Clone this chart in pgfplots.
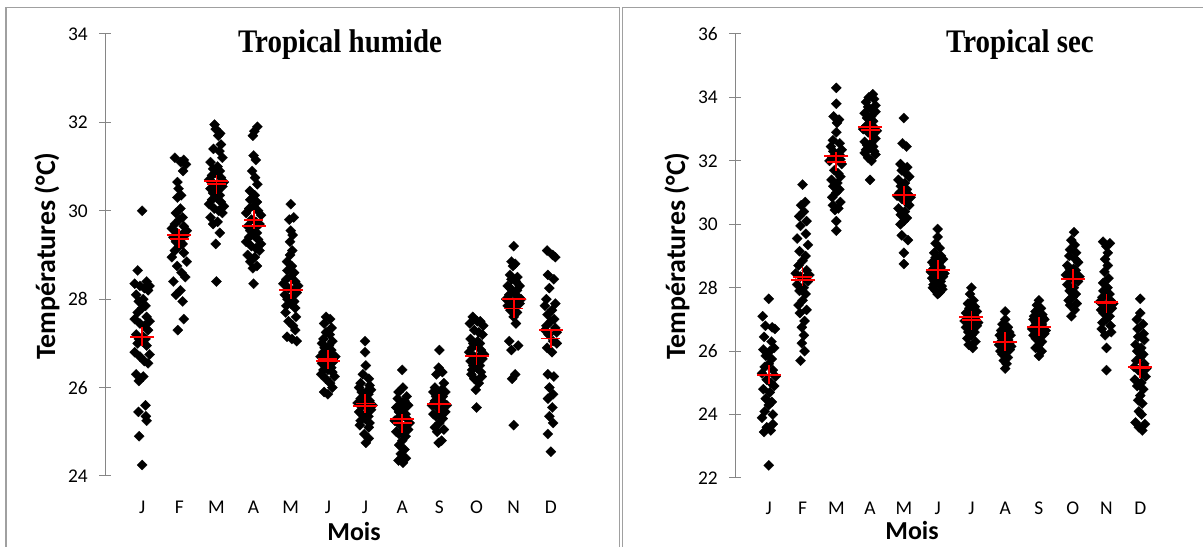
\documentclass[border=0pt]{standalone}
\usepackage{fontspec}
\setmainfont{Carlito}
\newfontfamily\timesfont{Liberation Serif}
\usepackage{graphicx}
\usepackage{pgfplots}
\pgfplotsset{compat=1.18}
\definecolor{axisgray}{HTML}{868686}
\definecolor{framegray}{HTML}{A0A0A0}
\pgfplotsset{
  panel/.style={
    scale only axis, anchor=south west, clip=false,
    xmin=0, xmax=13,
    axis lines=left, axis line style={-},
    x axis line style={draw=none},
    y axis line style={draw=axisgray, line width=1bp},
    xtick={1,...,12},
    xticklabels={J,F,M,A,M,J,J,A,S,O,N,D},
    tick align=center,
    major tick length=12bp,
    ytick style={draw=axisgray, line width=1bp},
    xtick style={draw=none},
    tick label style={font=\fontsize{19.5}{21}\selectfont, text=black},
    yticklabel style={inner sep=0pt, anchor=east, xshift=-11bp},
    xticklabel style={inner sep=0pt, anchor=north, text height=12.3bp, text depth=0pt},
    /pgf/number format/assume math mode=true,
  },
  pts/.style={only marks, mark=square*, mark size=3.6bp, mark options={rotate=45, fill=black, draw=black, line width=0.2bp}},
  medbar/.style={only marks, mark=-, mark size=12bp, mark options={draw=red, line width=2bp}},
  meanplus/.style={only marks, mark=+, mark size=9.5bp, mark options={draw=red, line width=1.8bp}},
}
\begin{document}
\begin{tikzpicture}
\begin{scope}[x=1bp,y=1bp]
\useasboundingbox (0,0) rectangle (1203,547);
\draw[framegray, line width=1.2bp] (6,0) -- (6,539.7) -- (619.8,539.7) -- (619.8,0);
\draw[framegray, line width=1.2bp] (622.3,0) -- (622.3,539.7) -- (1203,539.7);
\node[font=\timesfont\bfseries\fontsize{33}{35}\selectfont] at (340,502) {\scalebox{0.88}[1]{Tropical humide}};
\node[font=\timesfont\bfseries\fontsize{33}{35}\selectfont] at (1020,502) {\scalebox{0.88}[1]{Tropical sec}};
\node[font=\bfseries\fontsize{28}{30}\selectfont, rotate=90] at (47,291) {Températures (°C)};
\node[font=\bfseries\fontsize{28}{30}\selectfont, rotate=90] at (677,291) {Températures (°C)};
\node[font=\bfseries\fontsize{26}{28}\selectfont] at (354,15) {Mois};
\node[font=\bfseries\fontsize{26}{28}\selectfont] at (912,16) {Mois};
\end{scope}

\begin{axis}[panel, at={(105bp,71bp)}, width=483bp, height=442bp,
  ymin=24, ymax=34, ytick={24,26,...,34}, xticklabel style={yshift=-19.5bp}]
\addplot[pts] coordinates {
(1,30.0) (0.88,28.65) (1.12,28.4) (0.8,28.35) (1.2,28.3) (0.94,28.3) (1.06,28.25) (1.16,28.2) (0.84,28.1) (1.03,28.0) (0.91,27.95) (1.09,27.85)
(1,27.8) (0.88,27.7) (1.12,27.6) (0.8,27.55) (1.2,27.5) (0.94,27.45) (1.06,27.4) (1.16,27.3) (0.84,27.2) (1.03,27.15) (0.91,27.1) (1.09,27.1)
(1,27.05) (0.88,27.0) (1.12,26.95) (0.8,26.8) (1.2,26.75) (0.94,26.7) (1.06,26.6) (1.16,26.55) (0.84,26.3) (1.03,26.25) (0.91,26.15) (1.09,25.6)
(0.9,25.45) (1.1,25.35) (1.12,25.25) (0.92,24.9) (1,24.25)
(1.88,31.2) (2.12,31.15) (2.04,31.1) (2.18,31.05) (2.1,30.9) (1.95,30.65) (1.98,30.5) (2.05,30.35) (1.95,30.3) (2.03,30.05) (1.91,29.95) (2.09,29.85)
(2,29.8) (1.88,29.7) (2.12,29.65) (1.8,29.6) (2.2,29.55) (1.94,29.5) (2.06,29.45) (2.16,29.45) (1.84,29.4) (2.03,29.35) (1.91,29.3) (2.09,29.25)
(2,29.2) (1.88,29.1) (2.12,29.05) (1.8,28.95) (2.2,28.85) (1.94,28.75) (2.06,28.6) (2.16,28.5) (1.84,28.4) (2.03,28.2) (1.91,28.1) (2.09,27.95)
(2.12,27.55) (1.96,27.3)
(2.95,31.95) (2.98,31.85) (3.1,31.75) (3.05,31.7) (3.12,31.5) (2.92,31.4) (3.08,31.35) (3.16,31.2) (2.84,31.1) (3.03,31.0) (2.91,30.95) (3.09,30.9)
(3,30.85) (2.88,30.8) (3.12,30.75) (2.8,30.7) (3.2,30.65) (2.94,30.6) (3.06,30.6) (3.16,30.55) (2.84,30.5) (3.03,30.45) (2.91,30.4) (3.09,30.35)
(3,30.3) (2.88,30.25) (3.12,30.2) (2.8,30.15) (3.2,30.1) (2.94,30.05) (3.06,30.0) (3.16,29.95) (2.84,29.85) (3.03,29.75) (2.91,29.7) (3.09,29.5)
(2.98,29.25) (3,28.4)
(4.1,31.9) (4.02,31.8) (3.98,31.7) (4.0,31.25) (4.06,31.15) (3.96,30.9) (4.04,30.75) (4.1,30.6) (3.9,30.45) (4.03,30.35) (3.91,30.25) (4.09,30.2)
(4,30.1) (3.88,30.05) (4.12,30.0) (3.8,29.95) (4.2,29.9) (3.94,29.8) (4.06,29.75) (4.16,29.7) (3.84,29.65) (4.03,29.6) (3.91,29.55) (4.09,29.5)
(4,29.45) (3.88,29.4) (4.12,29.35) (3.8,29.3) (4.2,29.25) (3.94,29.2) (4.06,29.15) (4.16,29.1) (3.84,29.0) (4.03,28.95) (3.91,28.85) (4.09,28.75)
(3.98,28.7) (4,28.35)
(5,30.15) (5.08,29.85) (4.96,29.8) (5.0,29.55) (5.05,29.45) (4.98,29.3) (5.04,29.1) (4.98,29.0) (4.9,28.85) (5.03,28.75) (4.91,28.65) (5.09,28.6)
(5,28.5) (4.88,28.45) (5.12,28.4) (4.8,28.35) (5.2,28.3) (4.94,28.25) (5.06,28.2) (5.16,28.15) (4.84,28.1) (5.03,28.05) (4.91,28.0) (5.09,27.95)
(5,27.9) (4.88,27.85) (5.12,27.8) (4.86,27.7) (5.14,27.6) (4.94,27.5) (5.06,27.4) (5.12,27.3) (4.9,27.15) (5.03,27.1) (5.16,27.05)
(5.95,27.6) (6.06,27.55) (5.9,27.45) (6.1,27.35) (5.95,27.25) (6.05,27.2) (5.88,27.1) (6.12,27.05) (5.84,27.0) (6.03,26.95) (5.91,26.9) (6.09,26.85)
(6,26.8) (5.88,26.8) (6.12,26.75) (5.8,26.7) (6.2,26.7) (5.94,26.65) (6.06,26.6) (6.16,26.6) (5.84,26.55) (6.03,26.5) (5.91,26.5) (6.09,26.45)
(6,26.4) (5.88,26.4) (6.12,26.35) (5.82,26.3) (6.18,26.25) (5.94,26.2) (6.06,26.1) (6.12,26.0) (5.9,25.9) (6.0,25.85)
(7,27.05) (7,26.8) (7.02,26.5) (6.94,26.3) (7.1,26.2) (6.88,26.1) (7.12,26.05) (6.84,26.0) (7.16,25.95) (7.03,25.9) (6.91,25.9) (7.09,25.85)
(7,25.8) (6.88,25.75) (7.12,25.7) (6.8,25.65) (7.2,25.6) (6.94,25.6) (7.06,25.55) (7.16,25.5) (6.84,25.45) (7.03,25.4) (6.91,25.4) (7.09,25.35)
(7,25.3) (6.88,25.25) (7.12,25.2) (6.86,25.15) (7.1,25.1) (6.98,24.95) (7.1,24.85) (7.02,24.75)
(8,26.4) (8.02,26.0) (7.9,25.9) (8.12,25.8) (7.88,25.75) (8.06,25.7) (7.94,25.6) (8.16,25.6) (7.84,25.55) (8.03,25.5) (7.91,25.45) (8.09,25.4)
(8,25.35) (7.88,25.3) (8.12,25.3) (7.8,25.25) (8.2,25.2) (7.94,25.15) (8.06,25.1) (8.16,25.05) (7.84,25.0) (8.03,25.0) (7.91,24.95) (8.09,24.9)
(8,24.8) (7.92,24.7) (8.06,24.6) (7.96,24.5) (8.1,24.4) (7.9,24.35) (8.02,24.3)
(9,26.85) (8.98,26.45) (9.08,26.35) (8.92,26.3) (9.12,26.1) (8.88,26.0) (9.06,25.95) (9.16,25.9) (8.84,25.9) (9.03,25.85) (8.91,25.8) (9.09,25.8)
(9,25.75) (8.88,25.7) (9.12,25.65) (8.8,25.6) (9.2,25.6) (8.94,25.55) (9.06,25.5) (9.16,25.45) (8.84,25.4) (9.03,25.4) (8.91,25.35) (9.09,25.3)
(9,25.2) (8.88,25.1) (9.12,25.05) (8.94,25.0) (9.06,24.8) (8.98,24.75)
(9.9,27.6) (10.1,27.5) (10.02,27.5) (9.82,27.45) (10.18,27.4) (9.94,27.3) (10.06,27.25) (10.16,27.2) (9.84,27.1) (10.03,27.05) (9.91,27.0) (10.09,27.0)
(10,26.95) (9.88,26.9) (10.12,26.85) (9.8,26.8) (10.2,26.75) (9.94,26.7) (10.06,26.7) (10.16,26.65) (9.84,26.6) (10.03,26.55) (9.91,26.5) (10.09,26.5)
(10,26.45) (9.88,26.4) (10.12,26.35) (9.86,26.3) (10.14,26.25) (9.94,26.2) (10.06,26.1) (9.98,25.95) (10,25.55)
(11,29.2) (10.94,28.85) (11.04,28.8) (10.98,28.75) (10.9,28.55) (11.1,28.5) (10.94,28.45) (11.06,28.4) (10.84,28.3) (11.16,28.3) (10.91,28.25) (11.09,28.2)
(11,28.15) (10.88,28.1) (11.12,28.05) (10.8,28.0) (11.2,28.0) (10.94,27.95) (11.06,27.9) (11.16,27.9) (10.84,27.85) (11.03,27.8) (10.91,27.75) (11.09,27.7)
(11,27.6) (11.06,27.45) (10.88,27.05) (11.12,26.95) (10.94,26.85) (11.04,26.3) (10.96,26.2) (11,25.15)
(11.9,29.1) (12.05,29.0) (12.12,28.95) (11.92,28.55) (12.08,28.45) (11.96,28.25) (11.88,28.0) (12.12,27.9) (11.84,27.85) (12.03,27.75) (11.91,27.65) (12.09,27.55)
(12,27.5) (11.88,27.4) (12.12,27.35) (11.84,27.3) (12.16,27.25) (11.94,27.2) (12.06,27.05) (12.16,27.0) (11.9,26.9) (12.03,26.8) (11.92,26.3) (12.08,26.25)
(11.96,26.0) (12.06,25.85) (11.92,25.75) (12.04,25.55) (11.96,25.35) (12.06,25.2) (11.92,24.95) (12,24.55)
};
\addplot[medbar] coordinates {(1,27.15) (2,29.45) (3,30.68) (4,29.66) (5,28.2) (6,26.6) (7,25.59) (8,25.28) (9,25.63) (10,26.72) (11,28.0) (12,27.3)};
\addplot[meanplus] coordinates {(1,27.15) (2,29.37) (3,30.6) (4,29.8) (5,28.22) (6,26.64) (7,25.64) (8,25.19) (9,25.63) (10,26.72) (11,27.79) (12,27.11)};
\end{axis}

\begin{axis}[panel, at={(735bp,69bp)}, width=439bp, height=444bp,
  ymin=22, ymax=36, ytick={22,24,...,36}, xticklabel style={yshift=-18.5bp}]
\addplot[pts] coordinates {
(1,27.65) (0.82,27.1) (0.9,26.8) (1.1,26.75) (1.18,26.7) (0.86,26.45) (1.08,26.3) (1.16,26.1) (0.84,26.05) (1.03,26.0) (0.91,25.85) (1.09,25.75)
(1,25.6) (0.88,25.5) (1.12,25.4) (0.8,25.3) (1.2,25.2) (0.94,25.1) (1.06,25.0) (1.16,24.9) (0.84,24.8) (1.03,24.7) (0.91,24.5) (1.09,24.4)
(1,24.3) (0.88,24.1) (1.12,24.0) (0.8,23.9) (1.12,23.7) (0.94,23.6) (1.06,23.5) (0.86,23.45) (1,22.4)
(2,31.25) (2.08,30.7) (1.96,30.6) (2.04,30.4) (1.9,30.25) (2.12,30.1) (1.94,29.95) (2.1,29.7) (1.84,29.55) (2.16,29.35) (1.91,29.15) (2.09,29.0)
(2,28.85) (1.88,28.7) (2.12,28.55) (1.8,28.45) (2.2,28.4) (1.94,28.35) (2.06,28.3) (2.16,28.2) (1.84,28.1) (2.03,28.0) (1.91,27.9) (2.09,27.8)
(2,27.6) (1.88,27.45) (2.12,27.3) (1.92,27.2) (2.06,26.95) (1.98,26.75) (2.04,26.5) (1.98,26.25) (2.06,26.0) (1.94,25.7)
(3,34.3) (3,33.8) (2.92,33.4) (3.08,33.3) (3.02,33.2) (3,32.9) (2.9,32.65) (3.1,32.55) (2.84,32.45) (3.16,32.35) (2.91,32.3) (3.09,32.2)
(3,32.15) (2.88,32.1) (3.12,32.05) (2.8,32.0) (3.16,31.9) (2.94,31.7) (3.06,31.6) (3.12,31.5) (2.86,31.4) (3.03,31.3) (2.91,31.2) (3.09,31.1)
(3,31.0) (2.88,30.85) (3.12,30.7) (2.9,30.6) (3.06,30.5) (2.96,30.45) (3,30.1) (3,29.8)
(4.08,34.1) (3.96,34.0) (4.12,33.95) (3.88,33.85) (4.16,33.75) (3.94,33.7) (4.06,33.6) (4.16,33.55) (3.84,33.5) (4.03,33.4) (3.91,33.35) (4.09,33.25)
(4,33.2) (3.88,33.1) (4.12,33.05) (3.8,33.0) (4.2,32.95) (3.94,32.9) (4.06,32.8) (4.16,32.7) (3.84,32.6) (4.03,32.55) (3.91,32.5) (4.09,32.45)
(4,32.4) (3.88,32.35) (4.12,32.3) (3.84,32.25) (4.16,32.2) (3.94,32.1) (4.04,32.0) (4,31.4)
(5,33.35) (4.96,32.55) (5.08,32.45) (4.9,31.9) (5.1,31.8) (4.94,31.7) (5.06,31.6) (5.16,31.5) (4.84,31.4) (5.03,31.3) (4.91,31.2) (5.09,31.1)
(5,31.05) (4.88,31.0) (5.12,30.95) (4.8,30.9) (5.2,30.85) (4.94,30.8) (5.06,30.7) (5.16,30.6) (4.84,30.5) (5.03,30.4) (4.91,30.3) (5.09,30.2)
(5,30.1) (4.9,30.0) (4.94,29.65) (5.12,29.5) (5,29.1) (5,28.75)
(6,29.85) (6,29.6) (5.94,29.4) (6.06,29.25) (5.9,29.1) (6.1,29.0) (5.94,28.95) (6.16,28.9) (5.84,28.8) (6.03,28.75) (5.91,28.7) (6.09,28.65)
(6,28.6) (5.88,28.6) (6.12,28.55) (5.8,28.5) (6.2,28.45) (5.94,28.4) (6.06,28.4) (6.16,28.35) (5.84,28.3) (6.03,28.25) (5.91,28.2) (6.09,28.2)
(6,28.15) (5.88,28.1) (6.12,28.05) (5.86,28.0) (6.14,27.95) (5.94,27.9) (6.06,27.85) (6,27.8)
(7,28.0) (6.96,27.8) (7.06,27.6) (6.9,27.5) (7.1,27.4) (6.94,27.35) (7.06,27.3) (7.16,27.25) (6.84,27.2) (7.03,27.2) (6.91,27.15) (7.09,27.1)
(7,27.05) (6.88,27.0) (7.12,27.0) (6.8,26.95) (7.2,26.9) (6.94,26.85) (7.06,26.8) (7.16,26.8) (6.84,26.75) (7.03,26.7) (6.91,26.6) (7.09,26.6)
(7,26.5) (6.88,26.4) (7.12,26.3) (6.92,26.2) (7.04,26.1)
(8,27.25) (8,27.0) (7.92,26.85) (8.08,26.75) (7.88,26.65) (8.12,26.6) (7.94,26.55) (8.16,26.5) (7.84,26.5) (8.03,26.45) (7.91,26.4) (8.09,26.35)
(8,26.3) (7.88,26.3) (8.12,26.25) (7.82,26.2) (8.18,26.15) (7.94,26.1) (8.06,26.1) (8.14,26.05) (7.86,26.0) (8.03,25.95) (7.92,25.9) (8.08,25.8)
(7.96,25.7) (8.04,25.6) (8,25.45)
(9,27.6) (8.94,27.45) (9.06,27.35) (8.9,27.25) (9.1,27.15) (8.86,27.1) (9.12,27.05) (9.16,27.0) (8.84,27.0) (9.03,26.95) (8.91,26.9) (9.09,26.85)
(9,26.8) (8.88,26.8) (9.12,26.75) (8.8,26.7) (9.2,26.65) (8.94,26.6) (9.06,26.6) (9.16,26.55) (8.84,26.5) (9.03,26.45) (8.91,26.4) (9.09,26.3)
(9,26.2) (8.9,26.1) (9.08,26.0) (9,25.85)
(10.04,29.75) (9.96,29.5) (10.06,29.35) (9.92,29.2) (10.1,29.1) (9.9,29.0) (10.08,28.9) (10.16,28.8) (9.84,28.7) (10.03,28.6) (9.91,28.6) (10.09,28.55)
(10,28.5) (9.88,28.45) (10.12,28.4) (9.8,28.4) (10.2,28.35) (9.94,28.3) (10.06,28.25) (10.16,28.2) (9.84,28.1) (10.03,28.0) (9.91,27.9) (10.09,27.8)
(10,27.7) (9.88,27.6) (10.12,27.5) (9.92,27.45) (10.06,27.3) (9.96,27.1)
(10.9,29.45) (11.1,29.4) (11.0,29.3) (11.04,29.1) (10.96,28.9) (11.04,28.7) (10.94,28.5) (11.06,28.3) (10.9,28.15) (11.03,28.0) (10.91,27.9) (11.09,27.8)
(11,27.75) (10.88,27.7) (11.12,27.6) (10.8,27.55) (11.2,27.5) (10.94,27.45) (11.06,27.4) (11.16,27.35) (10.84,27.3) (11.03,27.25) (10.91,27.2) (11.09,27.1)
(11,27.0) (10.88,26.9) (11.12,26.8) (10.86,26.7) (11.14,26.6) (10.96,26.5) (11,26.1) (11,25.4)
(12,27.65) (12,27.2) (11.9,27.0) (12.08,26.85) (11.92,26.7) (12.1,26.55) (11.94,26.45) (12.12,26.35) (11.86,26.2) (12.03,26.1) (11.91,26.0) (12.09,25.9)
(12,25.8) (11.88,25.7) (12.12,25.6) (11.82,25.5) (12.18,25.45) (11.94,25.4) (12.06,25.3) (12.16,25.2) (11.84,25.1) (12.03,25.0) (11.91,24.9) (12.09,24.8)
(12,24.6) (11.94,24.45) (12.06,24.35) (11.96,24.1) (12.04,24.0) (11.86,23.75) (12.14,23.7) (11.96,23.6) (12.06,23.5)
};
\addplot[medbar] coordinates {(1,25.25) (2,28.23) (3,32.15) (4,33.07) (5,30.92) (6,28.56) (7,27.08) (8,26.3) (9,26.77) (10,28.29) (11,27.55) (12,25.5)};
\addplot[meanplus] coordinates {(1,25.25) (2,28.35) (3,31.97) (4,32.97) (5,30.92) (6,28.56) (7,26.98) (8,26.3) (9,26.77) (10,28.29) (11,27.5) (12,25.45)};
\end{axis}
\end{tikzpicture}
\end{document}
